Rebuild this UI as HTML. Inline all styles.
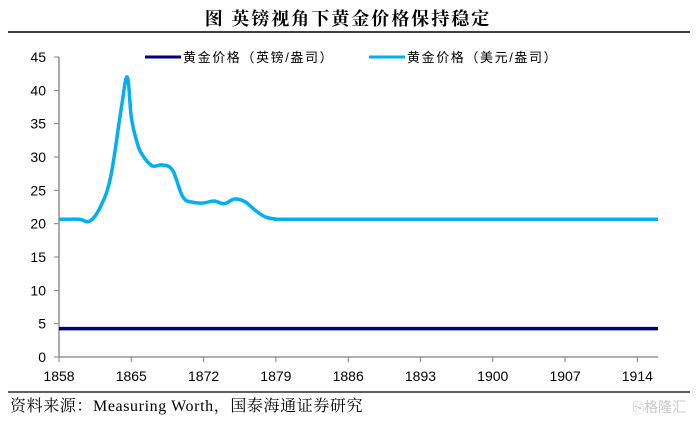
<!DOCTYPE html>
<html><head><meta charset="utf-8"><style>
html,body{margin:0;padding:0;background:#fff;}
body{width:696px;height:423px;overflow:hidden;position:relative;font-family:"Liberation Sans","Noto Sans CJK SC",sans-serif;}
svg{position:absolute;left:0;top:0;}
</style></head><body>
<svg id="chart" width="696" height="423">
  <text x="348" y="25" text-anchor="middle" font-family="'Liberation Serif','Noto Serif CJK SC',serif" font-weight="bold" font-size="18" letter-spacing="2" fill="#000">图  英镑视角下黄金价格保持稳定</text>
  <line x1="8" y1="32" x2="690" y2="32" stroke="#000" stroke-width="1.5"/>
  <g>
    <g>
      <line x1="145" y1="57" x2="181" y2="57" stroke="#000080" stroke-width="3"/>
      <text x="183" y="62" font-size="13" letter-spacing="1.6" fill="#000" font-family="'Liberation Sans','Noto Sans CJK SC',sans-serif">黄金价格（英镑/盎司）</text>
    </g>
    <g>
      <line x1="369" y1="57" x2="405" y2="57" stroke="#00b0f0" stroke-width="3"/>
      <text x="407" y="62" font-size="13" letter-spacing="1.6" fill="#000" font-family="'Liberation Sans','Noto Sans CJK SC',sans-serif">黄金价格（美元/盎司）</text>
    </g>
  </g>
  <g id="axes"></g>
  <g id="series"></g>
  <line x1="8" y1="392" x2="690" y2="392" stroke="#000" stroke-width="1.2"/>
  <text x="10" y="411" font-size="16" letter-spacing="0.6" fill="#000" font-family="'Liberation Serif','Noto Serif CJK SC',serif">资料来源：Measuring Worth，国泰海通证券研究</text>
  <text x="686" y="412" text-anchor="end" font-size="14" fill="#c8c8c8">⎘格隆汇</text>
</svg>
<script>
const years = [1858,1859,1860,1861,1862,1863,1864,1864.6,1865,1865.5,1866,1867,1868,1869,1870,1871,1872,1873,1874,1875,1876,1877,1878,1879,1880,1890,1900,1910,1916];
const usdValues = [20.67,20.67,20.67,20.4,22.5,27,37,42,36,32.5,30.5,28.7,28.8,28,24.0,23.2,23.1,23.4,23.0,23.7,23.3,22.0,21.0,20.7,20.67,20.67,20.67,20.67,20.67];
const gbpYears = [1858,1916];
const gbpValues = [4.25,4.25];
const xTicks = [1858,1865,1872,1879,1886,1893,1900,1907,1914];
const yTicks = [0,5,10,15,20,25,30,35,40,45];

const X0=59,X1=658,Y0=357,Y1=57,xMin=1858,xMax=1916,yMin=0,yMax=45;
const xs=v=>X0+(v-xMin)/(xMax-xMin)*(X1-X0);
const ys=v=>Y0-(v-yMin)/(yMax-yMin)*(Y0-Y1);
const NS='http://www.w3.org/2000/svg';
const axes=document.getElementById('axes'), series=document.getElementById('series');
function mk(tag,attrs,parent){const e=document.createElementNS(NS,tag);for(const k in attrs)e.setAttribute(k,attrs[k]);parent.appendChild(e);return e;}

const yAxis=mk('line',{x1:X0,y1:Y1,x2:X0,y2:Y0,stroke:'#808080','stroke-width':1.3},axes);


const xAxis=mk('line',{x1:X0,y1:Y0,x2:X1,y2:Y0,stroke:'#808080','stroke-width':1.3},axes);


yTicks.forEach(t=>{
  mk('line',{x1:X0-5,y1:ys(t),x2:X0,y2:ys(t),stroke:'#808080','stroke-width':1},axes);
  const l=mk('text',{x:X0-13,y:ys(t)+5,'text-anchor':'end','font-size':14,fill:'#000'},axes);
  l.textContent=t;
  
  
});
xTicks.forEach(t=>{
  mk('line',{x1:xs(t),y1:Y0,x2:xs(t),y2:Y0+5,stroke:'#808080','stroke-width':1},axes);
  const l=mk('text',{x:xs(t),y:Y0+24,'text-anchor':'middle','font-size':14,fill:'#000'},axes);
  l.textContent=t;
  
  
});
function smooth(px,py){
  const p=px.map((x,i)=>[xs(x),ys(py[i])]);
  let d='M'+p[0][0]+','+p[0][1];
  for(let i=0;i<p.length-1;i++){
    const a=p[Math.max(0,i-1)],b=p[i],c=p[i+1],e=p[Math.min(p.length-1,i+2)];
    const t=0.18;
    d+=' C'+(b[0]+(c[0]-a[0])*t)+','+(b[1]+(c[1]-a[1])*t)+' '+(c[0]-(e[0]-b[0])*t)+','+(c[1]-(e[1]-b[1])*t)+' '+c[0]+','+c[1];
  }
  return d;
}
const gbp=mk('path',{d:smooth(gbpYears,gbpValues),fill:'none',stroke:'#000080','stroke-width':3.5},series);


const usd=mk('path',{d:smooth(years,usdValues),fill:'none',stroke:'#00b0f0','stroke-width':3.5,'stroke-linejoin':'round'},series);


</script>
</body></html>
